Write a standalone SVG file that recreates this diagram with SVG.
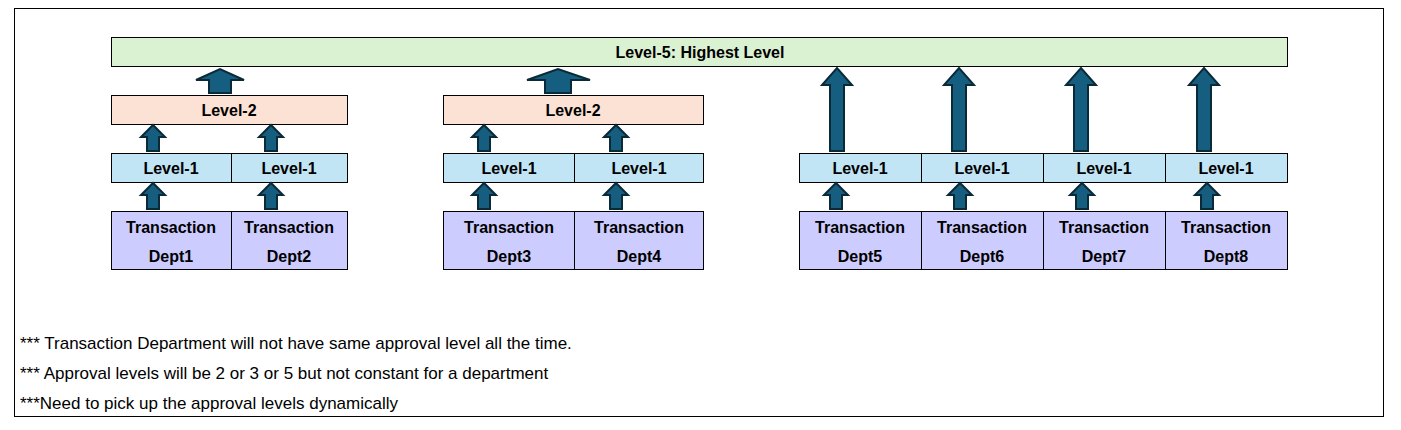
<svg xmlns="http://www.w3.org/2000/svg" width="1401" height="430" viewBox="0 0 1401 430">
<style>
.b{stroke:#000;stroke-width:1}
.top{fill:#dbf2d2}.l2{fill:#fbe2d5}.l1{fill:#c1e5f5}.tr{fill:#ccccff}
.t{font-family:"Liberation Sans",Arial,sans-serif;font-weight:bold;font-size:16px;text-anchor:middle;fill:#000}
.n{font-family:"Liberation Sans",Arial,sans-serif;font-size:17px;fill:#000}
.a{fill:#155e80;stroke:#0b2a38;stroke-width:2;stroke-linejoin:miter}
</style>
<defs>
<path id="sa" class="a" d="M-6,0 V-14 H-12 L0,-26 L12,-14 H6 V0 Z"/>
<path id="ta" class="a" d="M-7,0 V-66 H-15 L0,-83 L15,-66 H7 V0 Z"/>
</defs>
<rect x="14.5" y="8.5" width="1369" height="408" fill="#fff" stroke="#000"/>
<g id="top"><rect class="b top" x="111.5" y="37.5" width="1176" height="29"/><text class="t" x="700" y="58">Level-5: Highest Level</text></g>
<g id="l2a"><rect class="b l2" x="111.5" y="95.5" width="236" height="29"/><text class="t" x="229" y="116">Level-2</text></g>
<g id="l2b"><rect class="b l2" x="443.5" y="95.5" width="260" height="29"/><text class="t" x="573" y="116">Level-2</text></g>
<g id="l1-1"><rect class="b l1" x="111.5" y="153.5" width="120" height="29"/><text class="t" x="171" y="174">Level-1</text></g>
<g id="l1-2"><rect class="b l1" x="231.5" y="153.5" width="116" height="29"/><text class="t" x="289" y="174">Level-1</text></g>
<g id="l1-3"><rect class="b l1" x="443.5" y="153.5" width="131" height="29"/><text class="t" x="509" y="174">Level-1</text></g>
<g id="l1-4"><rect class="b l1" x="574.5" y="153.5" width="129" height="29"/><text class="t" x="639" y="174">Level-1</text></g>
<g id="l1-5"><rect class="b l1" x="799.5" y="153.5" width="122" height="29"/><text class="t" x="860" y="174">Level-1</text></g>
<g id="l1-6"><rect class="b l1" x="921.5" y="153.5" width="122" height="29"/><text class="t" x="982" y="174">Level-1</text></g>
<g id="l1-7"><rect class="b l1" x="1043.5" y="153.5" width="122" height="29"/><text class="t" x="1104" y="174">Level-1</text></g>
<g id="l1-8"><rect class="b l1" x="1165.5" y="153.5" width="122" height="29"/><text class="t" x="1226" y="174">Level-1</text></g>
<g id="d1"><rect class="b tr" x="111.5" y="211.5" width="120" height="58"/><text class="t" x="171" y="233">Transaction</text><text class="t" x="171" y="262">Dept1</text></g>
<g id="d2"><rect class="b tr" x="231.5" y="211.5" width="116" height="58"/><text class="t" x="289" y="233">Transaction</text><text class="t" x="289" y="262">Dept2</text></g>
<g id="d3"><rect class="b tr" x="443.5" y="211.5" width="131" height="58"/><text class="t" x="509" y="233">Transaction</text><text class="t" x="509" y="262">Dept3</text></g>
<g id="d4"><rect class="b tr" x="574.5" y="211.5" width="129" height="58"/><text class="t" x="639" y="233">Transaction</text><text class="t" x="639" y="262">Dept4</text></g>
<g id="d5"><rect class="b tr" x="799.5" y="211.5" width="122" height="58"/><text class="t" x="860" y="233">Transaction</text><text class="t" x="860" y="262">Dept5</text></g>
<g id="d6"><rect class="b tr" x="921.5" y="211.5" width="122" height="58"/><text class="t" x="982" y="233">Transaction</text><text class="t" x="982" y="262">Dept6</text></g>
<g id="d7"><rect class="b tr" x="1043.5" y="211.5" width="122" height="58"/><text class="t" x="1104" y="233">Transaction</text><text class="t" x="1104" y="262">Dept7</text></g>
<g id="d8"><rect class="b tr" x="1165.5" y="211.5" width="122" height="58"/><text class="t" x="1226" y="233">Transaction</text><text class="t" x="1226" y="262">Dept8</text></g>
<g id="connectors">
<use href="#sa" x="153" y="209"/><use href="#sa" x="271" y="209"/>
<use href="#sa" x="484" y="209"/><use href="#sa" x="616" y="209"/>
<use href="#sa" x="836" y="209"/><use href="#sa" x="960" y="209"/>
<use href="#sa" x="1082" y="209"/><use href="#sa" x="1207" y="209"/>
<use href="#sa" x="153" y="151"/><use href="#sa" x="271" y="151"/>
<use href="#sa" x="484" y="151"/><use href="#sa" x="616" y="151"/>
<path class="a" d="M209,93 V80 H196 L220,69 L244,80 H231 V93 Z"/>
<path class="a" d="M545,93 V80 H527 L558,69 L590,80 H571 V93 Z"/>
<use href="#ta" x="837" y="151"/><use href="#ta" x="959" y="151"/>
<use href="#ta" x="1081" y="151"/><use href="#ta" x="1204" y="151"/>
</g>
<text class="n" x="20" y="349">*** Transaction Department will not have same approval level all the time.</text>
<text class="n" x="20" y="379">*** Approval levels will be 2 or 3 or 5 but not constant for a department</text>
<text class="n" x="20" y="409">***Need to pick up the approval levels dynamically</text>
</svg>
